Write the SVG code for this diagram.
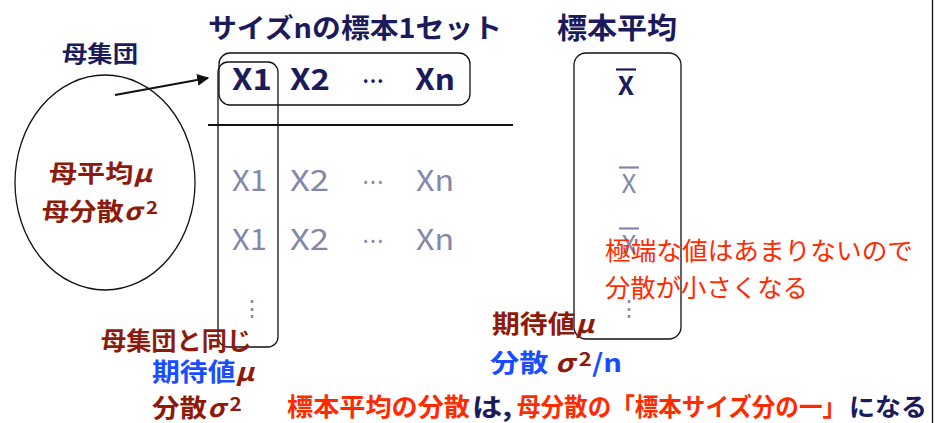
<svg xmlns="http://www.w3.org/2000/svg" width="950" height="423" viewBox="0 0 950 423">
<style>
text{font-family:"Noto Sans CJK JP","Noto Sans",sans-serif;}
.navy{fill:#1b1b5c;font-weight:bold;}
.gray{fill:#8587aa;}
.dred{fill:#8e1a0c;font-weight:bold;}
.blue{fill:#1a4dff;font-weight:bold;}
.red{fill:#ff2a00;}
.redb{fill:#ff2a00;font-weight:bold;}
.box{fill:none;stroke:#111;stroke-width:1.3;}
.it{font-style:italic;}
</style>
<defs>
<marker id="ah" viewBox="0 0 10 10" refX="9" refY="5" markerWidth="6" markerHeight="6" orient="auto">
<path d="M0,0 L10,5 L0,10 z" fill="#111"/>
</marker>
</defs>

<g id="titles">
<text class="navy" x="208" y="38" font-size="27" textLength="294" lengthAdjust="spacingAndGlyphs">サイズnの標本1セット</text>
<text class="navy" x="557" y="39" font-size="29" textLength="120" lengthAdjust="spacingAndGlyphs">標本平均</text>
</g>

<g id="population">
<text class="navy" x="62" y="62" font-size="23" textLength="76" lengthAdjust="spacingAndGlyphs">母集団</text>
<ellipse cx="105" cy="182.5" rx="90" ry="107.5" class="box" stroke-width="1"/>
<text class="dred" x="49" y="182" font-size="24" textLength="103" lengthAdjust="spacingAndGlyphs">母平均<tspan class="it">μ</tspan></text>
<text class="dred" x="42" y="220" font-size="24" textLength="116" lengthAdjust="spacingAndGlyphs">母分散<tspan class="it">σ</tspan><tspan font-size="18" dy="-6"> 2</tspan></text>
</g>

<g id="sample">
<rect x="219" y="53" width="251" height="52" rx="11" class="box"/>
<text class="navy" x="232" y="90" font-size="29" textLength="40" lengthAdjust="spacingAndGlyphs">X1</text>
<text class="navy" x="290" y="90" font-size="29" textLength="40" lengthAdjust="spacingAndGlyphs">X2</text>
<text class="navy" x="362" y="90" font-size="24" textLength="22" lengthAdjust="spacingAndGlyphs">⋯</text>
<text class="navy" x="415" y="90" font-size="29" textLength="40" lengthAdjust="spacingAndGlyphs">Xn</text>
</g>

<g id="rows">
<text class="gray" x="232" y="191" font-size="29" textLength="35" lengthAdjust="spacingAndGlyphs">X1</text>
<text class="gray" x="290" y="191" font-size="29" textLength="39" lengthAdjust="spacingAndGlyphs">X2</text>
<text class="gray" x="362" y="191" font-size="24" textLength="22" lengthAdjust="spacingAndGlyphs">⋯</text>
<text class="gray" x="416" y="191" font-size="29" textLength="38" lengthAdjust="spacingAndGlyphs">Xn</text>
<text class="gray" x="232" y="250" font-size="29" textLength="35" lengthAdjust="spacingAndGlyphs">X1</text>
<text class="gray" x="290" y="250" font-size="29" textLength="39" lengthAdjust="spacingAndGlyphs">X2</text>
<text class="gray" x="362" y="250" font-size="24" textLength="22" lengthAdjust="spacingAndGlyphs">⋯</text>
<text class="gray" x="416" y="250" font-size="29" textLength="38" lengthAdjust="spacingAndGlyphs">Xn</text>
<text class="gray" x="252" y="316" font-size="22" text-anchor="middle">⋮</text>
</g>

<g id="column">
<rect x="218" y="62" width="60" height="285" rx="10" class="box"/>
</g>

<g id="means">
<rect x="574" y="53" width="107" height="286" rx="12" class="box"/>
<line x1="616" y1="69.5" x2="636" y2="69.5" stroke="#1b1b5c" stroke-width="2.2"/>
<text class="navy" x="626" y="95" font-size="26" text-anchor="middle" font-weight="normal">X</text>
<line x1="619" y1="167.5" x2="639" y2="167.5" stroke="#8587aa" stroke-width="2.2"/>
<text class="gray" x="629" y="193" font-size="26" text-anchor="middle">X</text>
<line x1="619" y1="228.5" x2="639" y2="228.5" stroke="#8587aa" stroke-width="2.2"/>
<text class="gray" x="629" y="254" font-size="26" text-anchor="middle">X</text>
<text class="gray" x="629" y="316" font-size="22" text-anchor="middle">⋮</text>
</g>

<g id="notes">
<text class="red" x="605" y="260" font-size="25" textLength="308" lengthAdjust="spacingAndGlyphs">極端な値はあまりないので</text>
<text class="red" x="605" y="297" font-size="25" textLength="203" lengthAdjust="spacingAndGlyphs">分散が小さくなる</text>
<text class="dred" x="101" y="350" font-size="25" textLength="151" lengthAdjust="spacingAndGlyphs">母集団と同じ</text>
<text x="152" y="381" font-size="25" font-weight="bold" textLength="102" lengthAdjust="spacingAndGlyphs"><tspan class="blue">期待値</tspan><tspan class="dred it">μ</tspan></text>
<text class="dred" x="152" y="417" font-size="25" textLength="90" lengthAdjust="spacingAndGlyphs">分散<tspan class="it">σ</tspan><tspan font-size="19" dy="-6"> 2</tspan></text>
<text x="492" y="333" font-size="25" font-weight="bold" textLength="102" lengthAdjust="spacingAndGlyphs"><tspan class="dred">期待値</tspan><tspan class="dred it">μ</tspan></text>
<text x="490" y="372" font-size="25" font-weight="bold" textLength="132" lengthAdjust="spacingAndGlyphs"><tspan class="blue">分散 </tspan><tspan class="dred it"> σ</tspan><tspan class="dred" font-size="19" dy="-6"> 2</tspan><tspan class="blue" dy="6">/n</tspan></text>
</g>

<g id="summary">
<text class="redb" x="287" y="416" font-size="25" textLength="183" lengthAdjust="spacingAndGlyphs">標本平均の分散</text>
<text class="navy" x="472" y="416" font-size="25" textLength="40" lengthAdjust="spacingAndGlyphs">は,</text>
<text class="redb" x="517" y="416" font-size="25" textLength="329" lengthAdjust="spacingAndGlyphs">母分散の「標本サイズ分の一」</text>
<text class="navy" x="849" y="416" font-size="25" textLength="78" lengthAdjust="spacingAndGlyphs">になる</text>
</g>

<g id="connectors">
<line x1="208" y1="125" x2="513" y2="125" stroke="#111" stroke-width="2"/>
<line x1="932.5" y1="0" x2="932.5" y2="423" stroke="#111" stroke-width="1.3"/>
<line x1="115" y1="95" x2="208" y2="78" stroke="#111" stroke-width="2" marker-end="url(#ah)"/>
</g>
</svg>
